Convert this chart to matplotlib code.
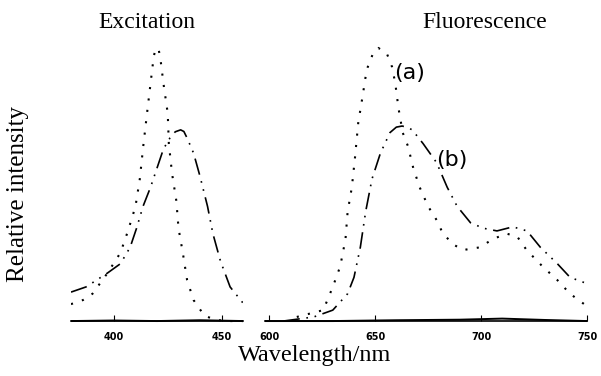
import numpy as np
import matplotlib
matplotlib.use('Agg')
import matplotlib.pyplot as plt

# excitation spectra (left panel)
ex_wl_a = [380, 385.6, 390, 397, 403, 406.5, 410, 412, 413.6, 415.5, 417, 418.5, 419.3, 420,
           420.8, 421.6, 423, 425, 425.5, 427, 429, 430, 432, 434, 437, 442, 447, 452, 460]
ex_a = [6.2, 7.7, 10, 17.6, 25, 33, 42, 52, 64, 77, 87, 97, 99.3, 100,
        99.3, 96, 87, 76, 65, 54, 44, 34, 25, 15, 7.7, 2, 0.5, 0, 0]
ex_wl_b = [380, 387, 397, 403, 407.5, 410.5, 413.5, 417, 420, 423, 426, 428.5, 431,
           432.5, 434, 437, 440, 443.5, 446, 449.5, 454, 460]
ex_b = [10.6, 12.5, 17.6, 21, 27, 34, 42, 49, 56, 63, 67, 69.3, 70,
        69.4, 67, 61.5, 53, 42, 32, 22, 12.5, 6.6]

# fluorescence spectra (right panel)
fl_wl_a = [613, 625.5, 630, 633.5, 636, 637, 639, 640.5, 642, 644, 646, 649, 651.5,
           655.5, 658, 659.5, 661, 663, 665.5, 668, 671, 675, 679, 682, 687, 691.5,
           699.5, 705.5, 712, 717, 721.5, 729, 736, 742, 749]
fl_a = [1.5, 4, 12.5, 20, 30, 40, 49, 60, 72.5, 82, 92, 98, 100,
        98, 93, 87, 78, 69, 64, 56, 49, 42, 37, 32, 28, 26,
        27, 30, 32, 31, 26, 20, 15, 10, 6]
fl_wl_b = [606.6, 621, 630, 637, 640, 643, 645.5, 648.5, 652.5, 657, 660, 662.7, 665, 667.5,
           672.6, 679, 684, 688.7, 695, 701, 707.5, 715, 721.7, 728, 736, 742, 749]
fl_b = [0, 1.5, 4, 10, 16, 27, 40, 52, 61.5, 69, 71, 71.4, 71, 70,
        65, 58, 49, 42, 36, 34, 33, 34.5, 33, 27, 21, 16, 14]

# blank traces along the baseline
ex_wl_0 = [380, 400, 420, 440, 460]
ex_0 = [0, 0.2, 0, 0.3, 0]
fl_wl_0 = [598, 630, 660, 690, 710, 730, 750]
fl_0 = [0, 0, 0.3, 0.5, 0.9, 0.4, 0]

ex_ticks = [400, 450]
fl_ticks = [600, 650, 700, 750]

fig = plt.figure(figsize=(6.01, 3.76), dpi=100)
ax1 = fig.add_axes([71/601, 0.1316, 172/601, 0.770])
ax2 = fig.add_axes([265/601, 0.1316, 322/601, 0.770])

dot = (0, (1, 4.5))
dashdot = (0, (10, 4, 1, 4, 1, 4))

ax1.plot(ex_wl_a, ex_a, color='black', lw=1.5, linestyle=dot)
ax1.plot(ex_wl_b, ex_b, color='black', lw=1.2, linestyle=dashdot)
ax1.plot(ex_wl_0, ex_0, color='black', lw=1.4)
ax2.plot(fl_wl_a, fl_a, color='black', lw=1.5, linestyle=dot)
ax2.plot(fl_wl_b, fl_b, color='black', lw=1.2, linestyle=dashdot)
ax2.plot(fl_wl_0, fl_0, color='black', lw=1.4)

ax1.set_xlim(380, 460)
ax2.set_xlim(598, 750)
for ax, ticks in ((ax1, ex_ticks), (ax2, fl_ticks)):
    ax.set_ylim(-2, 104)
    for s in ('left', 'right', 'top'):
        ax.spines[s].set_visible(False)
    ax.spines['bottom'].set_position(('data', 0))
    ax.spines['bottom'].set_linewidth(1.2)
    ax.set_yticks([])
    ax.set_xticks(ticks)
    ax.tick_params(axis='x', direction='in', length=4, width=0.8, pad=8)
    for lab in ax.get_xticklabels():
        lab.set_fontsize(7)
        lab.set_fontweight('bold')

ax2.text(659, 91, '(a)', fontsize=16, ha='left', va='center', family='DejaVu Sans')
ax2.text(679, 59, '(b)', fontsize=16, ha='left', va='center', family='DejaVu Sans')

serif = 'Liberation Serif'
fig.text(147/601, 1 - 22/376, 'Excitation', family=serif, fontsize=17, ha='center', va='center')
fig.text(485/601, 1 - 22/376, 'Fluorescence', family=serif, fontsize=17, ha='center', va='center')
fig.text(18/601, 1 - 194/376, 'Relative intensity', family=serif, fontsize=18,
         ha='center', va='center', rotation=90)
fig.text(315/601, 1 - 355/376, 'Wavelength/nm', family=serif, fontsize=17.5, ha='center', va='center')

plt.savefig('out.png', dpi=100)
